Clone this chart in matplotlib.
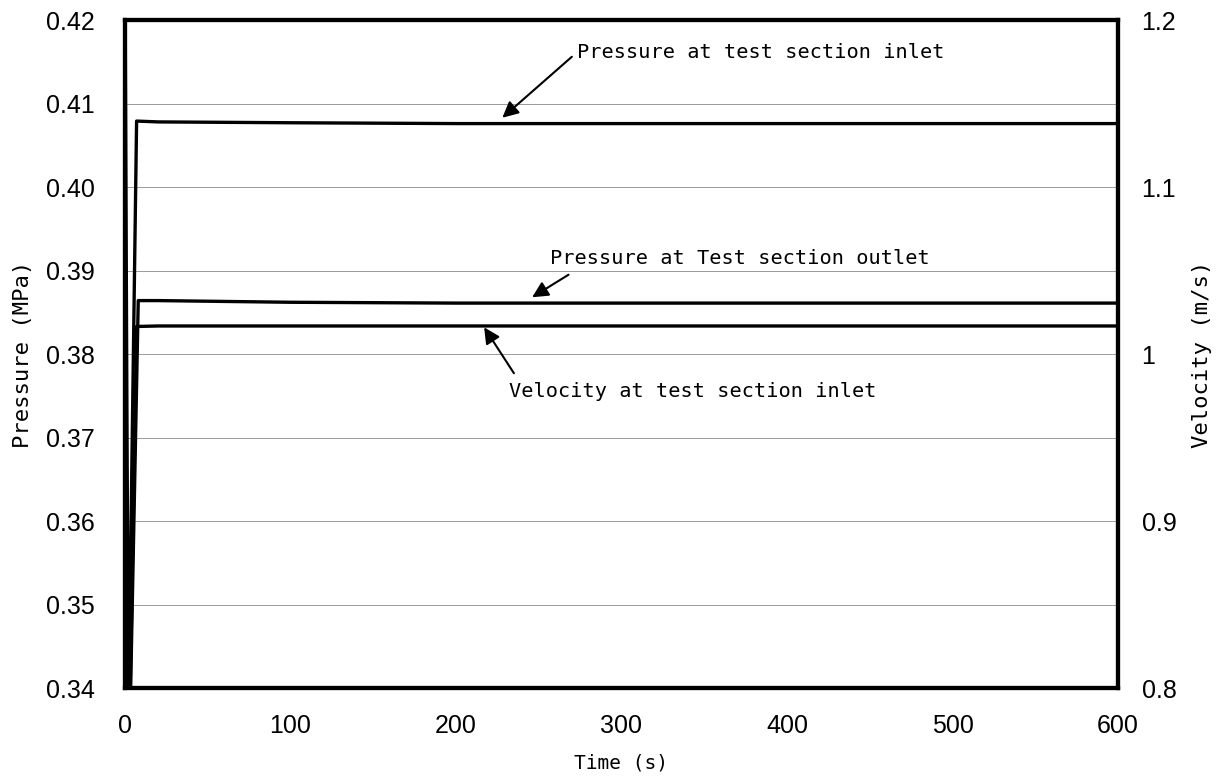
import matplotlib.pyplot as plt

# time (s) and readings picked off the chart
t_inlet = [0, 1, 2, 7, 20, 100, 200, 300, 400, 500, 600]
p_inlet = [0.425, 0.380, 0.336, 0.4079, 0.4078, 0.4077, 0.4076, 0.4076, 0.4076, 0.4076, 0.4076]

t_outlet = [0, 2, 3, 8, 20, 100, 200, 300, 400, 500, 600]
p_outlet = [0.381, 0.345, 0.336, 0.3864, 0.3864, 0.3862, 0.3861, 0.3861, 0.3861, 0.3861, 0.3861]

t_vel = [0, 2, 3, 7, 20, 100, 200, 300, 400, 500, 600]
v_inlet = [1.0, 0.83, 0.79, 1.0165, 1.0168, 1.0168, 1.0168, 1.0168, 1.0168, 1.0168, 1.0168]

p_ticks = [0.34, 0.35, 0.36, 0.37, 0.38, 0.39, 0.40, 0.41, 0.42]
v_ticks = [0.8, 0.9, 1.0, 1.1, 1.2]
v_labels = ['0.8', '0.9', '1', '1.1', '1.2']
x_ticks = [0, 100, 200, 300, 400, 500, 600]

tick_font = ['Liberation Sans', 'DejaVu Sans']
text_font = ['DejaVu Sans Mono', 'DejaVu Sans']

fig = plt.figure(figsize=(12.28, 7.83), dpi=100)
ax = fig.add_axes([0.1018, 0.1213, 0.8086, 0.8531])
ax2 = ax.twinx()

ax.plot(t_inlet, p_inlet, color='black', lw=2.4)
ax.plot(t_outlet, p_outlet, color='black', lw=2.4)
ax2.plot(t_vel, v_inlet, color='black', lw=2.4)

ax.set_xlim(0, 600)
ax.set_ylim(0.34, 0.42)
ax2.set_ylim(0.8, 1.2)

ax.set_xticks(x_ticks)
ax.set_yticks(p_ticks)
ax.set_yticklabels(['%.2f' % v for v in p_ticks])
ax2.set_yticks(v_ticks)
ax2.set_yticklabels(v_labels)

ax.grid(axis='y', color='#9a9a9a', lw=0.7)
ax.tick_params(axis='y', length=0, labelsize=18, pad=22)
ax.tick_params(axis='x', length=0, labelsize=18, pad=19)
ax2.tick_params(length=0, labelsize=18, pad=17)
for lab in ax.get_xticklabels() + ax.get_yticklabels() + ax2.get_yticklabels():
    lab.set_family(tick_font)

for sp in list(ax.spines.values()) + list(ax2.spines.values()):
    sp.set_linewidth(3)

ax.set_xlabel('Time (s)', fontsize=14, family=text_font, va='center')
ax.xaxis.set_label_coords(0.5, -0.112)
ax.set_ylabel('Pressure (MPa)', fontsize=16, family=text_font, va='center')
ax.yaxis.set_label_coords(-0.103, 0.5)
ax2.set_ylabel('Velocity (m/s)', fontsize=16, family=text_font, va='center')
ax2.yaxis.set_label_coords(1.085, 0.5)

arrow = dict(arrowstyle='-|>', color='black', lw=1.5, mutation_scale=24, shrinkA=0, shrinkB=0)
ax.annotate('', xy=(228, 0.4083), xytext=(270, 0.4156), arrowprops=arrow)
ax.text(273, 0.4161, 'Pressure at test section inlet', fontsize=14.6, family=text_font,
        va='center', ha='left')
ax.annotate('', xy=(246, 0.3868), xytext=(268, 0.3895), arrowprops=arrow)
ax.text(257, 0.3915, 'Pressure at Test section outlet', fontsize=14.6, family=text_font,
        va='center', ha='left')
ax.annotate('', xy=(217, 0.3832), xytext=(235, 0.3777), arrowprops=arrow)
ax.text(232, 0.3755, 'Velocity at test section inlet', fontsize=14.6, family=text_font,
        va='center', ha='left')

fig.savefig('out.png', dpi=100)
